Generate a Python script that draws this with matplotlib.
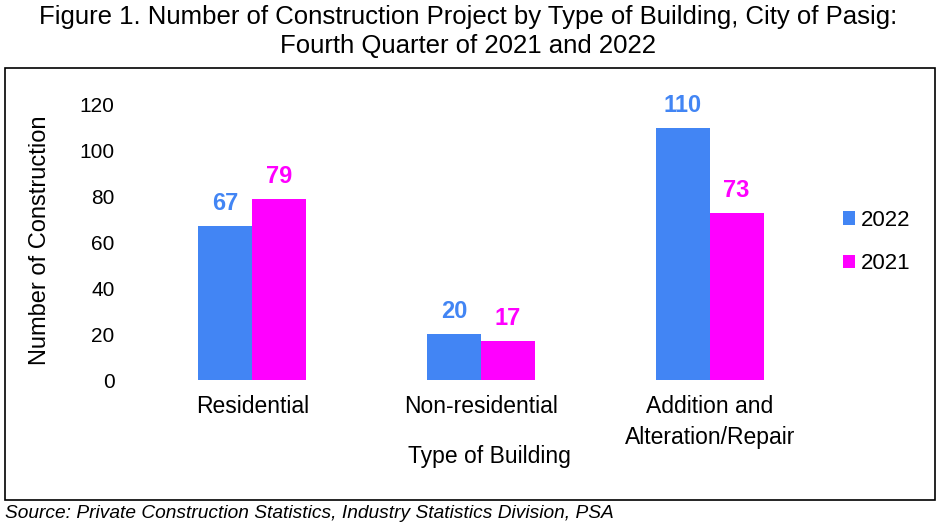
import matplotlib
matplotlib.use("Agg")
import matplotlib.pyplot as plt
from matplotlib.patches import Rectangle
import numpy as np

plt.rcParams['font.family'] = ['Liberation Sans', 'DejaVu Sans']

categories = ["Residential", "Non-residential", "Addition and\nAlteration/Repair"]
series_names = ["2022", "2021"]
values_2022 = [67, 20, 110]
values_2021 = [79, 17, 73]
yticks = [0, 20, 40, 60, 80, 100, 120]
colors = ["#4285F4", "#FF00FF"]

W, H = 937, 531
fig = plt.figure(figsize=(W/100, H/100), dpi=100)

# frame
fig.patches.append(Rectangle((5/W, 1-500/H), 930/W, 432/H, transform=fig.transFigure,
                             fill=False, edgecolor="black", linewidth=1.2))

ax = fig.add_axes([138/W, 1-380/H, 686/W, 275/H])
x = np.arange(len(categories))
bw = 0.236
b1 = ax.bar(x - bw/2, values_2022, bw, color=colors[0], label=series_names[0])
b2 = ax.bar(x + bw/2, values_2021, bw, color=colors[1], label=series_names[1])
for bars, vals, c in [(b1, values_2022, colors[0]), (b2, values_2021, colors[1])]:
    for r, v in zip(bars, vals):
        ax.annotate(str(v), (r.get_x() + r.get_width()/2, v), xytext=(0, 8),
                    textcoords="offset points", ha="center", va="bottom",
                    color=c, fontsize=17, fontweight="bold")

ax.set_xlim(-0.5, 2.5)
ax.set_ylim(0, 120)
ax.set_yticks(yticks)
ax.set_yticklabels([str(t) for t in yticks], fontsize=15)
ax.set_xticks(x)
ax.set_xticklabels(categories, fontsize=16.5, linespacing=1.45, va="top")
ax.tick_params(axis="both", length=0)
ax.tick_params(axis="x", pad=11)
ax.tick_params(axis="y", pad=17)
for s in ax.spines.values():
    s.set_visible(False)

fig.text(40/W, 1-240/H, "Number of Construction", rotation=90, ha="center", va="center", fontsize=17)
fig.text(489/W, 1-456/H, "Type of Building", ha="center", va="center", fontsize=16.5)

fig.legend(handles=[b1, b2], loc="center left", bbox_to_anchor=(823/W, 1-242/H),
           frameon=False, fontsize=16, handlelength=0.55, handleheight=0.55,
           handletextpad=0.25, labelspacing=1.0)

fig.text(468/W, 1-17/H, "Figure 1. Number of Construction Project by Type of Building, City of Pasig:",
         ha="center", va="center", fontsize=18.5)
fig.text(468/W, 1-46/H, "Fourth Quarter of 2021 and 2022", ha="center", va="center", fontsize=18.5)
fig.text(5/W, 1-513/H, "Source: Private Construction Statistics, Industry Statistics Division, PSA",
         ha="left", va="center", fontsize=13.8, style="italic")

fig.savefig("out.png", dpi=100)
